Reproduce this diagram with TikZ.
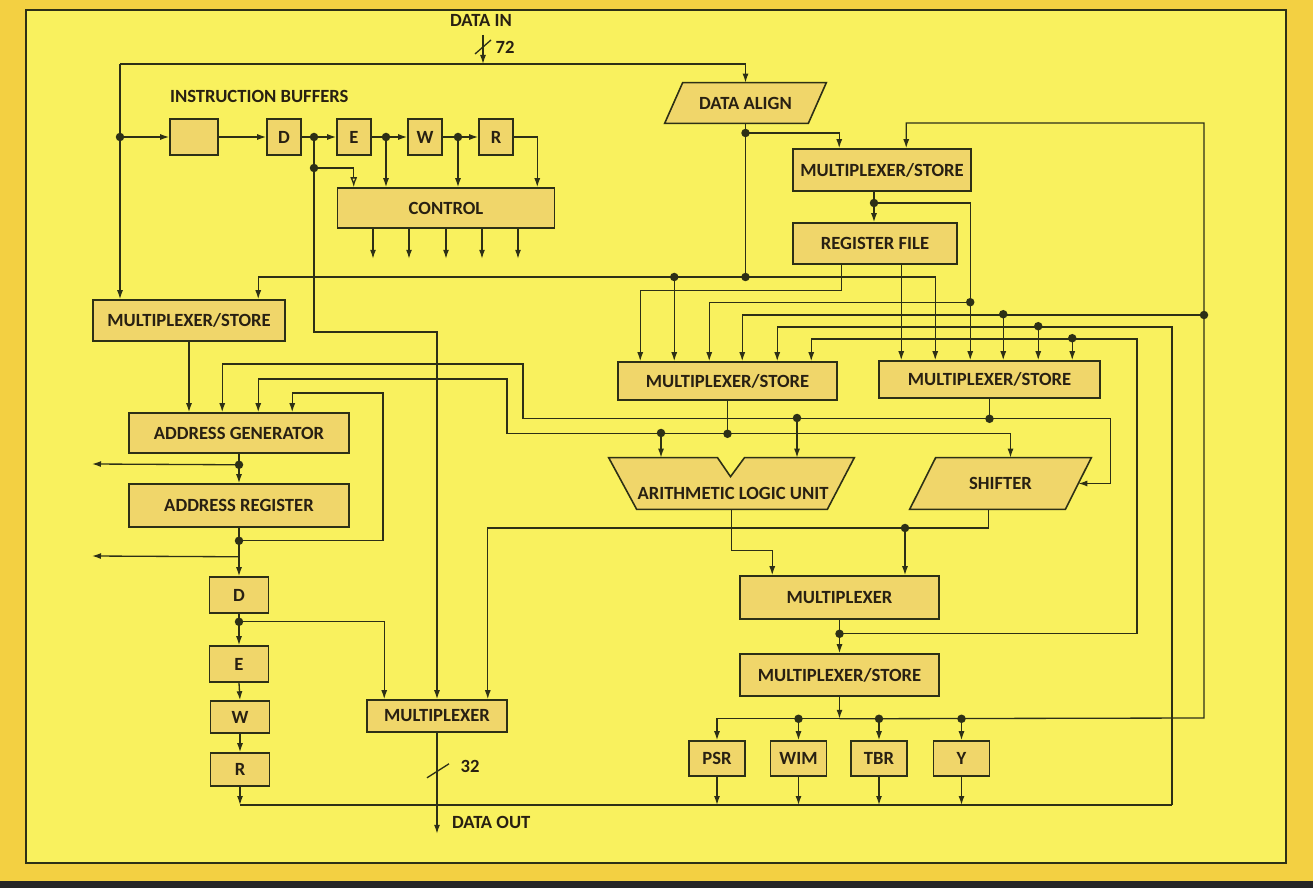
\documentclass[tikz,border=0pt]{standalone}
\usepackage{fontspec}
\setmainfont{Carlito}
\usetikzlibrary{arrows.meta, positioning, calc}

\definecolor{ink}{RGB}{45,48,22}
\definecolor{txt}{RGB}{40,32,18}
\definecolor{paper}{RGB}{249,241,94}
\definecolor{edge}{RGB}{243,208,66}
\definecolor{boxfill}{RGB}{240,214,106}

\pgfdeclarelayer{back}
\pgfdeclarelayer{shapes}
\pgfsetlayers{back,shapes,main}

\begin{document}
\begin{tikzpicture}[
    x=0.02cm, y=-0.02cm,
    wire/.style={draw=ink, line width=0.75pt},
    arrow/.style={wire, -{Latex[length=1.8mm, width=1.2mm]}},
    openarrow/.style={wire, -{Latex[open, length=2mm, width=1.4mm]}},
    box/.style={rectangle, draw=ink, line width=0.9pt, fill=boxfill, text=txt, font=\bfseries\fontsize{10.6}{12}\selectfont, inner sep=1pt},
    reg/.style={box, minimum width=0.68cm, minimum height=0.72cm},
    stage/.style={box, minimum width=1.18cm},
    tag/.style={text=txt, font=\bfseries\fontsize{10.6}{12}\selectfont, inner sep=1pt},
    outline/.style={draw=ink, line width=0.9pt, fill=boxfill}
]
\useasboundingbox (0,0) rectangle (1313,888);

% instruction side
\node[tag] (datain) at (481,20) {DATA IN};
\node[tag] (w72) at (505,47) {72};
\node[tag, anchor=west] (ibuf) at (168,96) {INSTRUCTION BUFFERS};
\node[box, minimum width=0.96cm, minimum height=0.72cm] (ib) at (194,137) {};
\node[reg] (d1) at (284,137) {D};
\node[reg] (e1) at (354,137) {E};
\node[reg] (w1) at (425,137) {W};
\node[reg] (r1) at (496,137) {R};
\node[box, minimum width=4.34cm, minimum height=0.8cm] (control) at (446,208) {CONTROL};

% data side
\node[tag, minimum width=3.22cm, minimum height=0.8cm] (dalign) at (745.5,103) {DATA ALIGN};
\node[box, minimum width=3.56cm, minimum height=0.84cm] (ms1) at (882,170) {MULTIPLEXER/STORE};
\node[box, minimum width=3.28cm, minimum height=0.82cm] (rf) at (875,243.5) {REGISTER FILE};
\node[box, minimum width=3.84cm, minimum height=0.82cm] (ms0) at (189,320.5) {MULTIPLEXER/STORE};
\node[box, minimum width=4.38cm, minimum height=0.76cm] (ms2) at (727.5,381) {MULTIPLEXER/STORE};
\node[box, minimum width=4.42cm, minimum height=0.74cm] (ms3) at (989.5,379.5) {MULTIPLEXER/STORE};
\node[minimum width=4.9cm, minimum height=1.02cm, inner sep=0pt] (alu) at (731.5,483.5) {};
\node[tag] (alutext) at (733,493) {ARITHMETIC LOGIC UNIT};
\node[tag, minimum width=3.62cm, minimum height=1.02cm] (shifter) at (1000.5,483.5) {SHIFTER};
\node[box, minimum width=3.98cm, minimum height=0.86cm] (muxr) at (839.5,597.5) {MULTIPLEXER};
\node[box, minimum width=3.98cm, minimum height=0.84cm] (ms4) at (839.5,675) {MULTIPLEXER/STORE};
\node[box, minimum width=1.12cm, minimum height=0.7cm] (psr) at (717,758.5) {PSR};
\node[box, minimum width=1.12cm, minimum height=0.7cm] (wim) at (798.5,758.5) {WIM};
\node[box, minimum width=1.12cm, minimum height=0.7cm] (tbr) at (879,758.5) {TBR};
\node[box, minimum width=1.12cm, minimum height=0.7cm] (yreg) at (961.5,758.5) {Y};

% address side
\node[box, minimum width=4.4cm, minimum height=0.8cm] (ag) at (239,433) {ADDRESS GENERATOR};
\node[box, minimum width=4.4cm, minimum height=0.86cm] (ar) at (239,505.5) {ADDRESS REGISTER};
\node[stage, minimum height=0.72cm] (d2) at (239,595) {D};
\node[stage, minimum height=0.72cm] (e2) at (239,664) {E};
\node[stage, minimum height=0.64cm] (w2) at (240,717) {W};
\node[stage, minimum height=0.66cm] (r2) at (240,769.5) {R};
\node[box, minimum width=2.8cm, minimum height=0.64cm] (muxb) at (437,716) {MULTIPLEXER};
\node[tag, anchor=west] (dataout) at (450,822) {DATA OUT};
\node[tag] (w32) at (470,766) {32};

\begin{pgfonlayer}{back}
  \fill[edge] (0,0) rectangle (1313,888);
  \fill[black!85] (0,881) rectangle (1313,888);
  \fill[paper] (26,10) rectangle (1286,863);
  \draw[ink, line width=0.7pt] (26,10) rectangle (1286,863);
\end{pgfonlayer}
\begin{pgfonlayer}{shapes}
  \draw[outline] (dalign.south west) -- ($(dalign.north west)+(18,0)$) -- (dalign.north east) -- ($(dalign.south east)+(-18,0)$) -- cycle;
  \draw[outline] (shifter.south west) -- ($(shifter.north west)+(26,0)$) -- (shifter.north east) -- ($(shifter.south east)+(-26,0)$) -- cycle;
  \draw[outline] (alu.north west) -- ($(alu.north)+(-14,0)$) -- ($(alu.north)+(-1,19)$) -- ($(alu.north)+(13,0)$) -- (alu.north east) -- ($(alu.south east)+(-27,0)$) -- ($(alu.south west)+(28,0)$) -- cycle;
\end{pgfonlayer}

% junctions and bends
\coordinate (din) at (483,35);
\coordinate (tbin) at (483,64);
\coordinate (tbl) at (120,64);
\coordinate (tbe) at (dalign.north |- tbl);
\coordinate (jib) at (tbl |- ib.west);
\coordinate (jd) at (314,137);
\coordinate (je) at (386,137);
\coordinate (jw) at (458,137);
\coordinate (jd2) at (314,168);
\coordinate (kd) at (314,332);
\coordinate (jda1) at (745.5,133);
\coordinate (jda2) at (745.5,277);
\coordinate (jm1) at (874,203);
\foreach \n/\dx in {a/23,b/57,c/92,d/125,e/160,f/194} {
  \coordinate (in2\n) at ($(ms2.north west)+(\dx,0)$);
  \coordinate (in3\n) at ($(ms3.north west)+(\dx,0)$);
}
\coordinate (jrb) at (in2b |- jda2);
\coordinate (jr3) at ($(in3c)+(0,-58)$);
\coordinate (jr4) at ($(in3d)+(0,-46)$);
\coordinate (jr5) at (1204,315);
\coordinate (fbt) at (1204,123);
\coordinate (fbb) at (1204,718);
\coordinate (c327) at (1172,327);
\coordinate (jr6) at ($(in3e)+(0,-34)$);
\coordinate (c339) at (1137,339);
\coordinate (jr7) at ($(in3f)+(0,-22)$);
\coordinate (jb) at ($(ms2.south)+(0,33)$);
\coordinate (ja1) at (661,433);
\coordinate (c507) at (507,379);
\coordinate (jc) at ($(ms3.south)+(0,20)$);
\coordinate (ja2) at (797,418);
\coordinate (c523) at (523,364);
\coordinate (sho) at ($(shifter.south)+(-12,0)$);
\coordinate (js) at (905,528);
\coordinate (jmr) at ($(muxr.south)+(0,14)$);
\coordinate (jbus) at ($(ms4.south)+(0,22)$);
\coordinate (jwim) at (wim.north |- jbus);
\coordinate (jtbr) at (tbr.north |- jbus);
\coordinate (jy) at (yreg.north |- jbus);
\coordinate (bbr) at (1172,805);
\coordinate (bbl) at (r2.south |- bbr);
\coordinate (jg1) at ($(ag.south)+(0,11)$);
\coordinate (jg2) at ($(ar.south)+(0,13)$);
\coordinate (jg3) at ($(ar.south)+(0,29)$);
\coordinate (gl1) at (92,464);
\coordinate (gl2) at (92,556);
\coordinate (c383) at (383,393);
\coordinate (jd3) at ($(d2.south)+(0,8)$);
\coordinate (dout) at ($(muxb.south)+(0,101)$);

% instruction path
\draw[arrow] (din) -- (tbin);
\draw[wire] ($(din)+(-8,19)$) -- ++(16,-14);
\draw[arrow] (tbl) -- (tbe) -- (dalign.north);
\draw[arrow] (tbl) -- (tbl |- ms0.north);
\draw[arrow] (jib) -- (ib.west);
\draw[arrow] (ib.east) -- (d1.west);
\draw[arrow] (d1.east) -- (e1.west);
\draw[arrow] (e1.east) -- (w1.west);
\draw[arrow] (w1.east) -- (r1.west);
\draw[arrow] (r1.east) -| ($(control.north east)+(-18,0)$);
\draw[arrow] (je) -- (je |- control.north);
\draw[arrow] (jw) -- (jw |- control.north);
\draw[wire] (jd) -- (jd2);
\draw[openarrow] (jd2) -| ($(control.north west)+(17,0)$);
\draw[arrow] (jd2) -- (kd) -| (muxb.north);
\foreach \dx in {-73,-37,0,36,72}
  \draw[arrow] ($(control.south)+(\dx,0)$) -- ++(0,30);

% register file and data buses
\draw[wire] (dalign.south) -- (jda2);
\draw[arrow] (jda1) -| ($(ms1.north west)+(47,0)$);
\draw[arrow] (jbus) -- (fbb) -- (fbt) -| ($(ms1.north west)+(114,0)$);
\draw[arrow] (jm1 |- ms1.south) -- (jm1 |- rf.north);
\draw[arrow] (jm1) -| (jr3) -- (in3c);
\draw[arrow] (jr3) -| (in2c);
\draw[arrow] ($(rf.south west)+(49,0)$) -- ++(0,26) -| (in2a);
\draw[arrow] (in3a |- rf.south) -- (in3a);
\draw[arrow] (jda2) -| (in3b);
\draw[arrow] (jda2) -| ($(ms0.north west)+(166,0)$);
\draw[arrow] (jrb) -- (in2b);
\draw[arrow] (jr5) -| (in2d);
\draw[arrow] (jr4) -- (in3d);
\draw[arrow] (bbr) -- (c327) -| (in2e);
\draw[arrow] (jr6) -- (in3e);
\draw[arrow] (jmr) -| (c339) -| (in2f);
\draw[arrow] (jr7) -- (in3f);

% alu and shifter
\draw[wire] (ms2.south) -- (jb);
\draw[arrow] (jb) -| ($(shifter.north)+(10,0)$);
\draw[arrow] (jb) -| (c507) -| ($(ag.north west)+(130,0)$);
\draw[arrow] (ja1) -- (ja1 |- alu.north);
\draw[wire] (ms3.south) -- (jc);
\draw[arrow] (jc) -| ($(shifter.east)+(19,0)$) -- ($(shifter.east)+(-13,0)$);
\draw[arrow] (jc) -| (c523) -| ($(ag.north west)+(94,0)$);
\draw[arrow] (ja2) -- (ja2 |- alu.north);
\draw[arrow] (alu.south) -- ++(0,41) -| ($(muxr.north west)+(33,0)$);
\draw[arrow] (sho) |- (js) -| ($(muxb.north east)+(-20,0)$);
\draw[arrow] (js) -- (js |- muxr.north);

% status registers
\draw[arrow] (muxr.south) -- (ms4.north);
\draw[arrow] (ms4.south) -- (jbus);
\draw[arrow] (jbus) -| (psr.north);
\foreach \r in {wim,tbr,yreg}
  \draw[arrow] (\r.north |- jbus) -- (\r.north);
\foreach \r in {psr,wim,tbr,yreg}
  \draw[arrow] (\r.south) -- (\r.south |- bbr);
\draw[arrow] (r2.south) -- (bbl);
\draw[wire] (bbl) -- (bbr);

% address path
\draw[arrow] (ms0.south) -- (ms0.south |- ag.north);
\draw[arrow] (ag.south) -- (ar.north);
\draw[arrow] (jg1) -- (gl1);
\draw[arrow] (ar.south) -- (d2.north);
\draw[arrow] (jg2) -| (c383) -| ($(ag.north west)+(164,0)$);
\draw[arrow] (jg3) -- (gl2);
\draw[arrow] (d2.south) -- (e2.north);
\draw[arrow] (jd3) -| ($(muxb.north west)+(18,0)$);
\draw[arrow] (e2.south) -- (w2.north);
\draw[arrow] (w2.south) -- (r2.north);
\draw[arrow] (muxb.south) -- (dout);
\draw[wire] ($(muxb.south)+(-10,45)$) -- ++(22,-14);

\foreach \p in {jib,jd,je,jw,jd2,jda1,jda2,jrb,jm1,jr3,jr4,jr5,jr6,jr7,jb,ja1,jc,ja2,js,jmr,jwim,jtbr,jy,jg1,jg2,jd3}
  \fill[ink] (\p) circle (0.085cm);
\end{tikzpicture}
\end{document}
